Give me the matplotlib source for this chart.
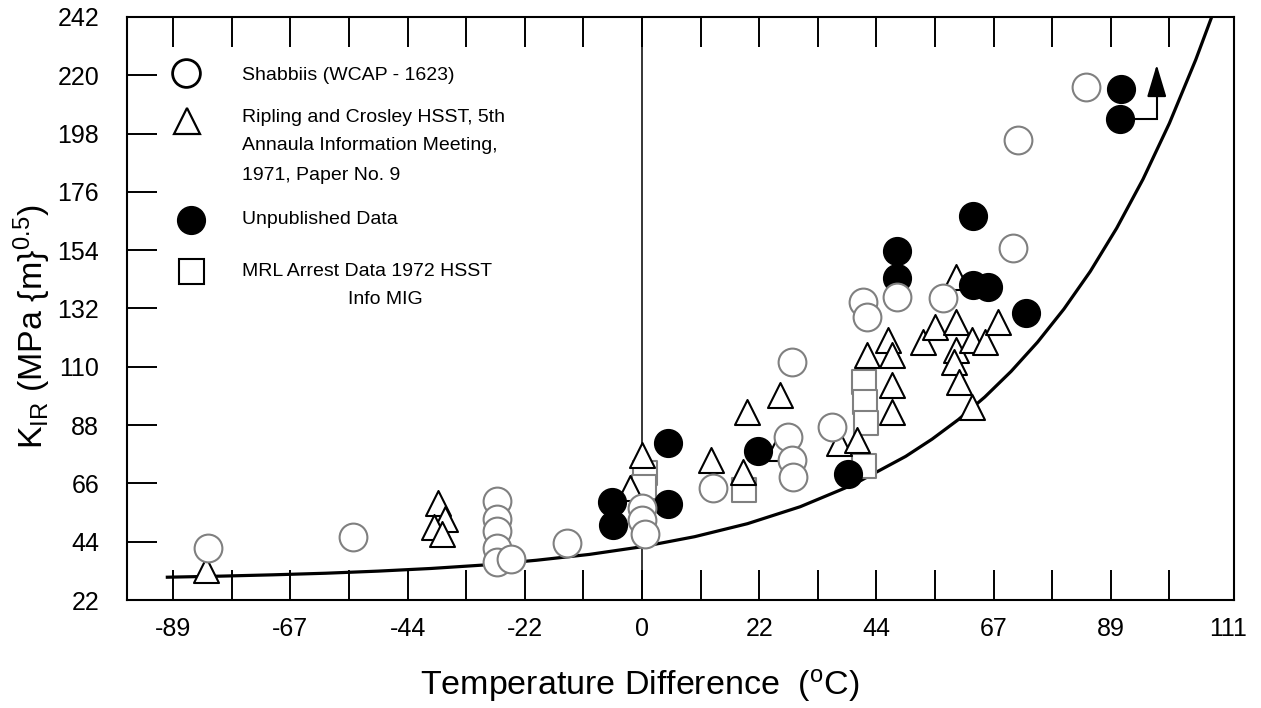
import numpy as np
import matplotlib
matplotlib.use("Agg")
import matplotlib.pyplot as plt

plt.rcParams['font.family'] = ['Liberation Sans', 'DejaVu Sans']
plt.rcParams['mathtext.fontset'] = 'custom'
plt.rcParams['mathtext.rm'] = 'Liberation Sans'
plt.rcParams['mathtext.it'] = 'Liberation Sans'

# Shabbiis (WCAP - 1623), open grey circles
shab_x = [-82.3, -54.8, -27.5, -27.5, -27.5, -27.5, -27.5, -24.8, -14.2, 0.0, 0.0, 0.6,
          13.5, 27.7, 28.4, 28.6, 28.4, 36.0, 41.9, 42.7, 48.4, 57.1, 70.3, 71.3, 84.2]
shab_y = [41.5, 45.6, 59.4, 52.6, 48.0, 41.6, 36.5, 37.5, 43.5, 56.7, 52.2, 46.9,
          64.3, 83.5, 74.8, 68.4, 111.8, 87.3, 134.5, 128.8, 136.3, 136.0, 154.8, 195.6, 215.6]

# Ripling and Crosley, open triangles
rip_x = [-82.7, -38.6, -37.4, -39.4, -37.9, -2.3, 0.0, 13.1, 19.2, 19.9, 25.8, 26.2,
         37.4, 40.8, 42.7, 46.6, 47.4, 47.4, 47.4, 53.3, 55.6, 59.5, 59.5, 59.5, 59.2,
         60.1, 62.6, 62.6, 65.0, 67.5]
rip_y = [33.3, 58.5, 52.5, 49.5, 47.0, 64.3, 76.7, 74.8, 70.3, 92.9, 79.4, 99.4,
         81.2, 82.4, 114.5, 120.1, 114.5, 103.1, 92.9, 119.4, 125.0, 126.9, 143.9, 116.3, 111.8,
         104.3, 94.8, 120.1, 119.4, 126.9]

# Unpublished data, filled circles
unpub_x = [-5.7, -5.5, 4.9, 4.9, 22.0, 39.1, 48.4, 48.4, 62.8, 65.6, 72.8, 62.8, 90.8, 90.6]
unpub_y = [59.0, 50.3, 81.2, 58.2, 78.2, 69.5, 153.7, 143.5, 140.9, 140.1, 130.3, 166.9, 214.8, 203.5]

# MRL arrest data, open grey squares
mrl_x = [0.6, 0.3, 19.3, 42.1, 42.3, 42.5, 42.1]
mrl_y = [69.9, 64.5, 63.5, 104.3, 96.7, 88.8, 72.6]

# K_IR reference curve
curve_t = [-90, -80, -70, -60, -50, -40, -30, -20, -10, 0, 10, 20, 30, 40, 50, 55,
           60, 65, 70, 75, 80, 85, 90, 95, 100, 105, 108]
curve_k = [30.6, 31.0, 31.5, 32.1, 32.9, 33.9, 35.2, 37.0, 39.2, 42.1, 45.9, 50.8, 57.2,
           65.5, 76.2, 82.7, 90.1, 98.6, 108.3, 119.3, 131.8, 146.0, 162.3, 180.8, 201.9,
           225.9, 241.9]

x_ticks = [-88.89, -66.67, -44.44, -22.22, 0.0, 22.22, 44.44, 66.67, 88.89, 111.11]
x_labels = ['-89', '-67', '-44', '-22', '0', '22', '44', '67', '89', '111']
y_ticks = [22, 44, 66, 88, 110, 132, 154, 176, 198, 220, 242]

fig = plt.figure(figsize=(12.61, 7.08), dpi=100)
ax = fig.add_axes([127 / 1261, 108 / 708, 1107 / 1261, 583 / 708])

ax.axvline(0, color='black', lw=1.1, zorder=1)
ax.plot(curve_t, curve_k, color='black', lw=2.3, zorder=2)

ax.scatter(mrl_x, mrl_y, s=17 ** 2, marker='s', facecolor='white', edgecolor='#808080',
           linewidths=1.5, zorder=3)
ax.scatter(rip_x, rip_y, s=18 ** 2, marker='^', facecolor='white', edgecolor='black',
           linewidths=1.5, zorder=4)
ax.scatter(unpub_x, unpub_y, s=20 ** 2, marker='o', facecolor='black', edgecolor='black',
           linewidths=1.0, zorder=5)
ax.scatter(shab_x, shab_y, s=20 ** 2, marker='o', facecolor='white', edgecolor='#808080',
           linewidths=1.5, zorder=6)

# arrow from the last unpublished point
ax0, ay0 = unpub_x[-1], unpub_y[-1]
ax.plot([ax0 + 2.5, ax0 + 7.0, ax0 + 7.0], [ay0, ay0, ay0 + 10], color='black', lw=1.5,
        zorder=7, solid_joinstyle='miter')
ax.annotate('', xy=(ax0 + 7.0, ay0 + 20.5), xytext=(ax0 + 7.0, ay0 + 9),
            arrowprops=dict(arrowstyle='-|>,head_width=0.3,head_length=1.0', color='black',
                            lw=1.5, mutation_scale=20, shrinkA=0, shrinkB=0), zorder=7)

ax.set_xlim(-97.65, 112.25)
ax.set_ylim(22, 242)
ax.set_xticks(x_ticks)
ax.set_xticklabels(x_labels)
ax.set_xticks([t + 11.11 for t in x_ticks[:-1]], minor=True)
ax.set_yticks(y_ticks)
ax.tick_params(axis='x', which='both', direction='in', length=21.5, width=1.4,
               top=True, bottom=True, labelsize=18, pad=12)
ax.tick_params(axis='y', which='both', direction='in', length=21.5, width=1.4,
               left=True, right=False, labelsize=18, pad=20)
# the 111 tick sits on the right frame, so only its label shows
last = ax.xaxis.get_major_ticks()[-1]
last.tick1line.set_visible(False)
last.tick2line.set_visible(False)
for sp in ax.spines.values():
    sp.set_linewidth(1.5)

# hand-drawn legend
tr = ax.transAxes
def fx(px):
    return (px - 127) / 1107
def fy(py):
    return (600 - py) / 583

ax.plot([fx(186)], [fy(73)], transform=tr, marker='o', ms=20, mfc='white', mec='black',
        mew=2, clip_on=False, zorder=8)
ax.plot([fx(187)], [fy(121)], transform=tr, marker='^', ms=19, mfc='white', mec='black',
        mew=1.6, clip_on=False, zorder=8)
ax.plot([fx(191)], [fy(220)], transform=tr, marker='o', ms=20, mfc='black', mec='black',
        clip_on=False, zorder=8)
ax.plot([fx(191)], [fy(271)], transform=tr, marker='s', ms=18, mfc='white', mec='black',
        mew=1.5, clip_on=False, zorder=8)

fs = 14
ax.text(fx(242), fy(75), 'Shabbiis (WCAP - 1623)', transform=tr, fontsize=fs, va='center')
ax.text(fx(242), fy(117), 'Ripling and Crosley HSST, 5th', transform=tr, fontsize=fs, va='center')
ax.text(fx(242), fy(146), 'Annaula Information Meeting,', transform=tr, fontsize=fs, va='center')
ax.text(fx(242), fy(175), '1971, Paper No. 9', transform=tr, fontsize=fs, va='center')
ax.text(fx(242), fy(220), 'Unpublished Data', transform=tr, fontsize=fs, va='center')
ax.text(fx(242), fy(271), 'MRL Arrest Data 1972 HSST', transform=tr, fontsize=fs, va='center')
ax.text(fx(348), fy(299), 'Info MIG', transform=tr, fontsize=fs, va='center')

fig.text(640 / 1261, 1 - 685 / 708, r'Temperature Difference  ($^{\mathrm{o}}$C)', fontsize=24.5,
         ha='center', va='center')
fig.text(32 / 1261, 1 - 327 / 708, r'K$_{\mathrm{IR}}$ (MPa {m}$^{0.5}$)', fontsize=24.5,
         ha='center', va='center', rotation=90)

fig.savefig('out.png', dpi=100)
